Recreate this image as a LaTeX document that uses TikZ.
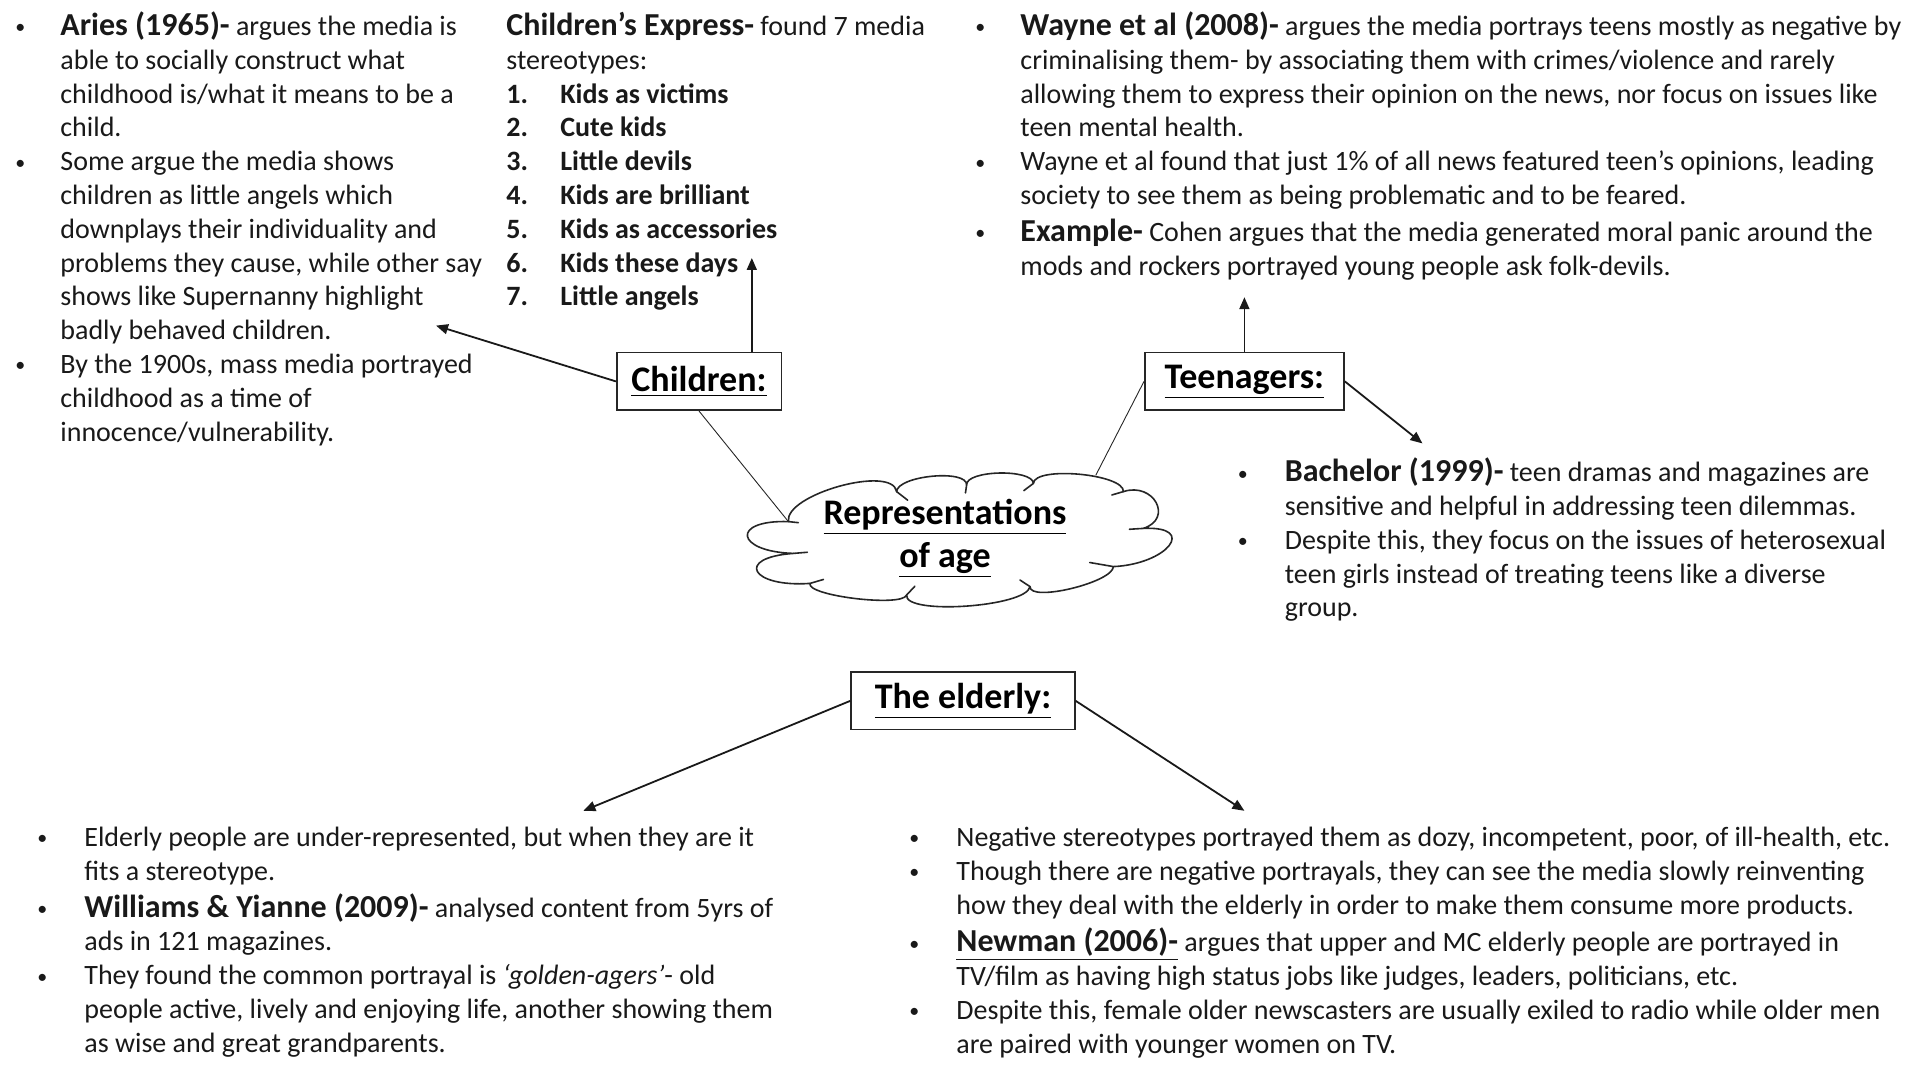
\documentclass[tikz,border=0pt]{standalone}
\usepackage{fontspec}
\setmainfont{Carlito}
\usetikzlibrary{calc,arrows.meta}
\begin{document}
\begin{tikzpicture}[x=1pt,y=-1pt,
  hbox/.style={draw=black!85, line width=0.8pt, minimum height=28.8pt, inner sep=0pt, font=\fontsize{18}{21}\selectfont\bfseries},
  txt/.style={anchor=base west, inner sep=0pt, font=\fontsize{14}{16.9}\selectfont, text=black!90},
  arr/.style={line width=0.9pt, draw=black!90, -{Triangle[length=6pt,width=5pt]}},
  thinline/.style={line width=0.45pt, draw=black!85},
  cloudline/.style={line width=0.8pt, draw=black!85, line join=round, line cap=round}]
\useasboundingbox (0,0) rectangle (960,540);
\newcommand{\hb}[1]{{\fontsize{16}{16.9}\selectfont\bfseries #1}}
\newcommand{\bul}[1]{\llap{\makebox[0pt][c]{\raisebox{0.8pt}{\fontsize{10}{10}\selectfont\textbullet}}\hspace{#1}}}
\newcommand{\puff}[3]{.. controls ($0.333*(#1)+1.333*(#2)-0.667*(#3)$) and ($1.333*(#2)-0.667*(#1)+0.333*(#3)$) .. (#3)}

% ---- top left block
\node[txt] (aries) at (30,17.8) {\begin{tabular}[t]{@{}l@{}}
\bul{20pt}\hb{Aries (1965)-} argues the media is\\
able to socially construct what\\
childhood is/what it means to be a\\
child.\\
\bul{20pt}Some argue the media shows\\
children as little angels which\\
downplays their individuality and\\
problems they cause, while other say\\
shows like Supernanny highlight\\
badly behaved children.\\
\bul{20pt}By the 1900s, mass media portrayed\\
childhood as a time of\\
innocence/vulnerability.
\end{tabular}};

% ---- top middle block
\node[txt] (express) at (253,17.8) {\begin{tabular}[t]{@{}p{27pt}@{}l@{}}
\multicolumn{2}{@{}l@{}}{\hb{Children’s Express-} found 7 media}\\
\multicolumn{2}{@{}l@{}}{stereotypes:}\\
\textbf{1.} & \textbf{Kids as victims}\\
\textbf{2.} & \textbf{Cute kids}\\
\textbf{3.} & \textbf{Little devils}\\
\textbf{4.} & \textbf{Kids are brilliant}\\
\textbf{5.} & \textbf{Kids as accessories}\\
\textbf{6.} & \textbf{Kids these days}\\
\textbf{7.} & \textbf{Little angels}
\end{tabular}};

% ---- top right block
\node[txt] (wayne) at (510,17.8) {\begin{tabular}[t]{@{}l@{}}
\bul{20pt}\hb{Wayne et al (2008)-} argues the media portrays teens mostly as negative by\\
criminalising them- by associating them with crimes/violence and rarely\\
allowing them to express their opinion on the news, nor focus on issues like\\
teen mental health.\\
\bul{20pt}Wayne et al found that just 1\% of all news featured teen’s opinions, leading\\
society to see them as being problematic and to be feared.\\[1.5pt]
\bul{20pt}\hb{Example-} Cohen argues that the media generated moral panic around the\\
mods and rockers portrayed young people ask folk-devils.
\end{tabular}};

% ---- teen lower block
\node[txt] (bachelor) at (642.2,240.8) {\begin{tabular}[t]{@{}l@{}}
\bul{21pt}\hb{Bachelor (1999)-} teen dramas and magazines are\\
sensitive and helpful in addressing teen dilemmas.\\
\bul{21pt}Despite this, they focus on the issues of heterosexual\\
teen girls instead of treating teens like a diverse\\
group.
\end{tabular}};

% ---- bottom left block
\node[txt] (williams) at (42,423.2) {\begin{tabular}[t]{@{}l@{}}
\bul{21pt}Elderly people are under-represented, but when they are it\\
fits a stereotype.\\[1.5pt]
\bul{21pt}\hb{Williams \& Yianne (2009)-} analysed content from 5yrs of\\
ads in 121 magazines.\\
\bul{21pt}They found the common portrayal is \textit{‘golden-agers’}- old\\
people active, lively and enjoying life, another showing them\\
as wise and great grandparents.
\end{tabular}};

% ---- bottom right block
\node[txt] (newman) at (478,423.2) {\begin{tabular}[t]{@{}l@{}}
\bul{21pt}Negative stereotypes portrayed them as dozy, incompetent, poor, of ill-health, etc.\\
\bul{21pt}Though there are negative portrayals, they can see the media slowly reinventing\\
how they deal with the elderly in order to make them consume more products.\\[2pt]
\bul{21pt}\hb{\underline{Newman (2006)-}} argues that upper and MC elderly people are portrayed in\\
TV/film as having high status jobs like judges, leaders, politicians, etc.\\
\bul{21pt}Despite this, female older newscasters are usually exiled to radio while older men\\
are paired with younger women on TV.
\end{tabular}};

% ---- heading boxes
\node[hbox, minimum width=82.3pt] (children) at (349.5,190.7) {\underline{Children:}};
\node[hbox, minimum width=99.6pt] (teens) at (622.2,190.7) {\underline{Teenagers:}};
\node[hbox, minimum width=111.8pt] (elderly) at (481.5,350.4) {\underline{The elderly:}};

% ---- cloud outline (junctions J, puff peaks P)
\coordinate (cloud) at (479.3,269.9);
\coordinate (J1) at (394.2,260.8);  \coordinate (P1) at (420,243.3);
\coordinate (J2) at (448.3,245.8);  \coordinate (P2) at (466.5,238.3);
\coordinate (J3) at (483.3,242.5);  \coordinate (P3) at (500,236.7);
\coordinate (J4) at (516.7,241.7);  \coordinate (P4) at (540,237.3);
\coordinate (J5) at (561.7,245.8);  \coordinate (P5) at (578.5,251.5);
\coordinate (J6) at (571.7,264.2);  \coordinate (P6) at (585,273);
\coordinate (J7) at (556.7,283.3);  \coordinate (P7) at (536,294.5);
\coordinate (J8) at (515,293.3);    \coordinate (P8) at (483.3,303.3);
\coordinate (J9) at (453.3,297.5);  \coordinate (P9) at (428,299.5);
\coordinate (J10) at (405,291.7);   \coordinate (P10) at (379,286);
\coordinate (J11) at (396.7,276.7); \coordinate (P11) at (374,268.3);
\draw[cloudline, fill=white] (J1) \puff{J1}{P1}{J2} \puff{J2}{P2}{J3} \puff{J3}{P3}{J4}
  \puff{J4}{P4}{J5} \puff{J5}{P5}{J6} \puff{J6}{P6}{J7} \puff{J7}{P7}{J8}
  \puff{J8}{P8}{J9} \puff{J9}{P9}{J10} \puff{J10}{P10}{J11} \puff{J11}{P11}{J1} -- cycle;
% inner curls of the cloud
\foreach \j/\l in {J1/5,J2/7,J3/4,J4/6,J5/6,J6/7,J7/12,J8/6,J9/6,J10/7,J11/7}
  \draw[cloudline] (\j) -- ($(\j)!\l pt!(cloud)$);

\node[font=\fontsize{18}{21.4}\selectfont\bfseries, align=center, inner sep=0pt] (cloudtext) at (472.5,269.3)
  {\underline{Representations}\\\underline{of age}};

% ---- connector end points
\coordinate (ariesEnd) at (218.0,162.8);
\coordinate (expressEnd) at (375.9,129.0);
\coordinate (wayneEnd) at (622.2,148.6);
\coordinate (bachelorEnd) at (711.2,221.7);
\coordinate (williamsEnd) at (291.7,405.4);
\coordinate (newmanEnd) at (622.2,405.4);
\coordinate (cloudB) at (547.9,237.6);

% ---- connectors
\draw[arr] (children.west) -- (ariesEnd);
\draw[arr] (children.north -| expressEnd) -- (expressEnd);
\draw[arr] (teens.north) -- (wayneEnd);
\draw[arr] (teens.east) -- (bachelorEnd);
\draw[arr] (elderly.west) -- (williamsEnd);
\draw[arr] (elderly.east) -- (newmanEnd);
\draw[thinline] (children.south) -- (J1);
\draw[thinline] (teens.west) -- (cloudB);
\end{tikzpicture}
\end{document}
